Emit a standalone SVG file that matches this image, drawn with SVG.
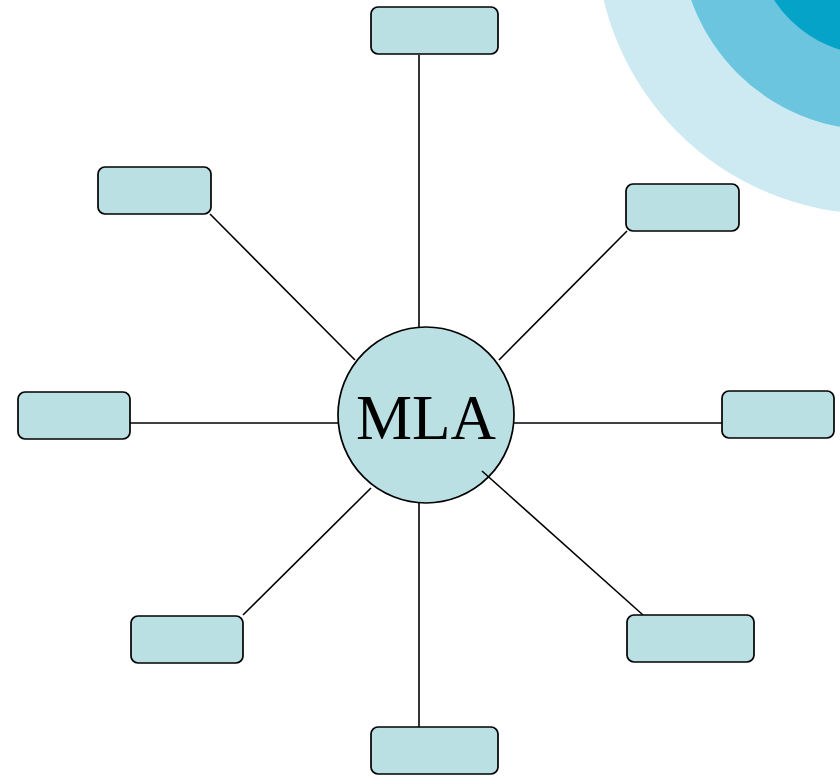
<svg xmlns="http://www.w3.org/2000/svg" width="840" height="779" viewBox="0 0 840 779">
<style>
.box{fill:#bbe0e3;stroke:#000;stroke-width:1.7}
.conn line{stroke:#000;stroke-width:1.6}
.lbl{font-family:"Liberation Serif","Times New Roman",serif;font-size:63px;fill:#000;text-anchor:middle}
</style>
<rect width="840" height="779" fill="#ffffff"/>
<g id="background">
<circle cx="875" cy="-65" r="279" fill="#cdeaf3"/>
<circle cx="875" cy="-65" r="195" fill="#6bc5de"/>
<circle cx="875" cy="-65" r="120" fill="#06a3c9"/>
</g>
<g id="center">
<circle class="box" cx="426" cy="415" r="88"/>
<text class="lbl" x="426" y="439">MLA</text>
</g>
<g id="connectors" class="conn">
<line x1="419" y1="55" x2="419" y2="327"/>
<line x1="419" y1="503" x2="419" y2="727"/>
<line x1="130" y1="423" x2="338" y2="423"/>
<line x1="514" y1="423" x2="722" y2="423"/>
<line x1="210" y1="214" x2="355" y2="360"/>
<line x1="627" y1="231" x2="499" y2="360"/>
<line x1="243" y1="615" x2="371" y2="488"/>
<line x1="482" y1="471" x2="643" y2="615"/>
</g>
<g id="n-top"><rect class="box" x="371" y="7" width="127" height="47" rx="7"/></g>
<g id="n-upper-left"><rect class="box" x="98" y="167" width="113" height="47" rx="7"/></g>
<g id="n-upper-right"><rect class="box" x="626" y="184" width="113" height="47" rx="7"/></g>
<g id="n-left"><rect class="box" x="18" y="392" width="112" height="47" rx="7"/></g>
<g id="n-right"><rect class="box" x="722" y="391" width="112" height="47" rx="7"/></g>
<g id="n-lower-left"><rect class="box" x="131" y="616" width="112" height="47" rx="7"/></g>
<g id="n-lower-right"><rect class="box" x="627" y="615" width="127" height="47" rx="7"/></g>
<g id="n-bottom"><rect class="box" x="371" y="727" width="127" height="47" rx="7"/></g>
</svg>
